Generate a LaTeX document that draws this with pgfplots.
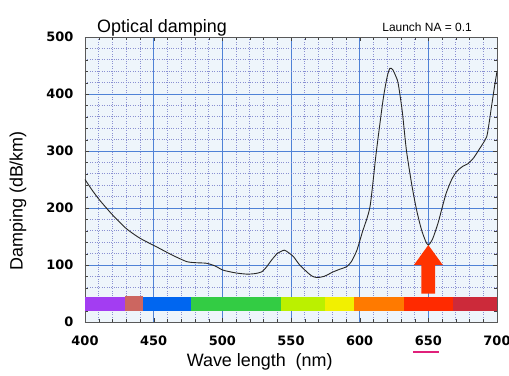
\documentclass[border=0pt]{standalone}
\usepackage{fontspec}
\setmainfont{Liberation Sans}
\newfontfamily\tickfont{DejaVu Sans}
\usepackage{pgfplots}
\pgfplotsset{compat=1.18}
\definecolor{bgc}{HTML}{EEF5FB}
\definecolor{gridmaj}{HTML}{4F82D6}
\definecolor{gridmin}{HTML}{8A90D2}
\definecolor{cpurple}{HTML}{A33DF2}
\definecolor{cbrown}{HTML}{CC6660}
\definecolor{cblue}{HTML}{0066F0}
\definecolor{cgreen}{HTML}{33CC44}
\definecolor{cygreen}{HTML}{BBF000}
\definecolor{cyellow}{HTML}{F2F000}
\definecolor{corange}{HTML}{FF7A00}
\definecolor{cred}{HTML}{FF2A00}
\definecolor{ccrimson}{HTML}{CC2A3A}
\definecolor{carrow}{HTML}{FF3300}
\definecolor{cpink}{HTML}{E0207A}
\begin{document}
\begin{tikzpicture}
\useasboundingbox (-85bp,-54bp) rectangle (424bp,322bp);
\begin{axis}[at={(0,0)}, anchor=south west, scale only axis,
  width=412bp, height=285bp,
  xmin=400, xmax=700, ymin=0, ymax=500,
  xtick={400,450,...,700}, ytick={0,100,...,500},
  minor xtick={410,420,...,690}, minor ytick={20,40,...,480},
  grid=both,
  major grid style={draw=gridmaj, line width=0.8pt},
  minor grid style={draw=gridmin, dotted, line width=0.7pt},
  axis background/.style={fill=bgc},
  axis line style={draw=black!65, line width=0.6pt},
  tick align=inside, major tick length=4bp, minor tick length=3bp,
  tick style={black!75},
  /pgf/number format/assume math mode=true,
  ticklabel style={font=\tickfont\bfseries\fontsize{13}{13}\selectfont},
  xticklabel style={yshift=-10bp},
  yticklabel style={xshift=-8bp},
  xlabel={Wave length\ \ (nm)},
  ylabel={Damping (dB/km)},
  xlabel style={font=\fontsize{18}{18}\selectfont, at={(axis description cs:0.424,0)}, anchor=center, yshift=-40bp},
  ylabel style={font=\fontsize{18}{18}\selectfont, at={(axis description cs:0,0.425)}, anchor=center, yshift=67bp},
  clip=false,
]
\addplot[black!85, line width=0.9pt, smooth, tension=0.4] coordinates {
(400,250) (405,232) (410.6,214) (420,188) (430,164) (440,147) (452,132)
(463,118) (474,106) (481,104) (488.6,103) (495,98) (500.5,91) (510,86)
(518,84) (524,85) (528.7,88) (532,96) (536,109) (540,120) (545,126)
(548,122) (551.7,115) (556,101) (561.5,88) (565,81) (568.7,78) (574,80)
(580.8,88) (586,93) (590.5,97) (594,106) (598,126) (602,158) (607.5,202)
(612,296) (617,389) (620,430) (622,445) (624,443) (626,433) (628,419)
(631,370) (634,302) (638,240) (641.5,196) (645,162) (648,142) (650,135)
(653,145) (657,173) (660,200) (663,226) (667,250) (670.6,264) (675,273)
(679,278) (683,288) (687.6,305) (690,314) (692.5,325) (694,345) (696,378)
(698,410) (700,440)
};
\addplot[fill=cpurple, draw=none] coordinates {(400,19) (429,19) (429,44) (400,44)} --cycle;
\addplot[fill=cbrown, draw=none] coordinates {(429,19) (442,19) (442,45) (429,45)} --cycle;
\addplot[fill=cblue, draw=none] coordinates {(442,19) (477,19) (477,44) (442,44)} --cycle;
\addplot[fill=cgreen, draw=none] coordinates {(477,19) (543,19) (543,44) (477,44)} --cycle;
\addplot[fill=cygreen, draw=none] coordinates {(543,19) (575,19) (575,44) (543,44)} --cycle;
\addplot[fill=cyellow, draw=none] coordinates {(575,19) (596,19) (596,44) (575,44)} --cycle;
\addplot[fill=corange, draw=none] coordinates {(596,19) (632,19) (632,44) (596,44)} --cycle;
\addplot[fill=cred, draw=none] coordinates {(632,19) (668,19) (668,44) (632,44)} --cycle;
\addplot[fill=ccrimson, draw=none] coordinates {(668,19) (700,19) (700,44) (668,44)} --cycle;
\addplot[fill=carrow, draw=none] coordinates {(645,50) (655,50) (655,100) (660.5,100) (650,135) (639.5,100) (645,100)} --cycle;
\draw[draw=cpink, line width=1.6pt] (axis cs:639,-53) -- (axis cs:658,-53);
\node[anchor=base west, inner sep=0pt, font=\fontsize{18}{18}\selectfont] at (rel axis cs:0,1) [xshift=12bp, yshift=5bp] {Optical damping};
\node[anchor=base east, inner sep=0pt, font=\fontsize{12}{12}\selectfont] at (rel axis cs:1,1) [xshift=-25bp, yshift=6bp] {Launch NA = 0.1};
\end{axis}
\end{tikzpicture}
\end{document}
